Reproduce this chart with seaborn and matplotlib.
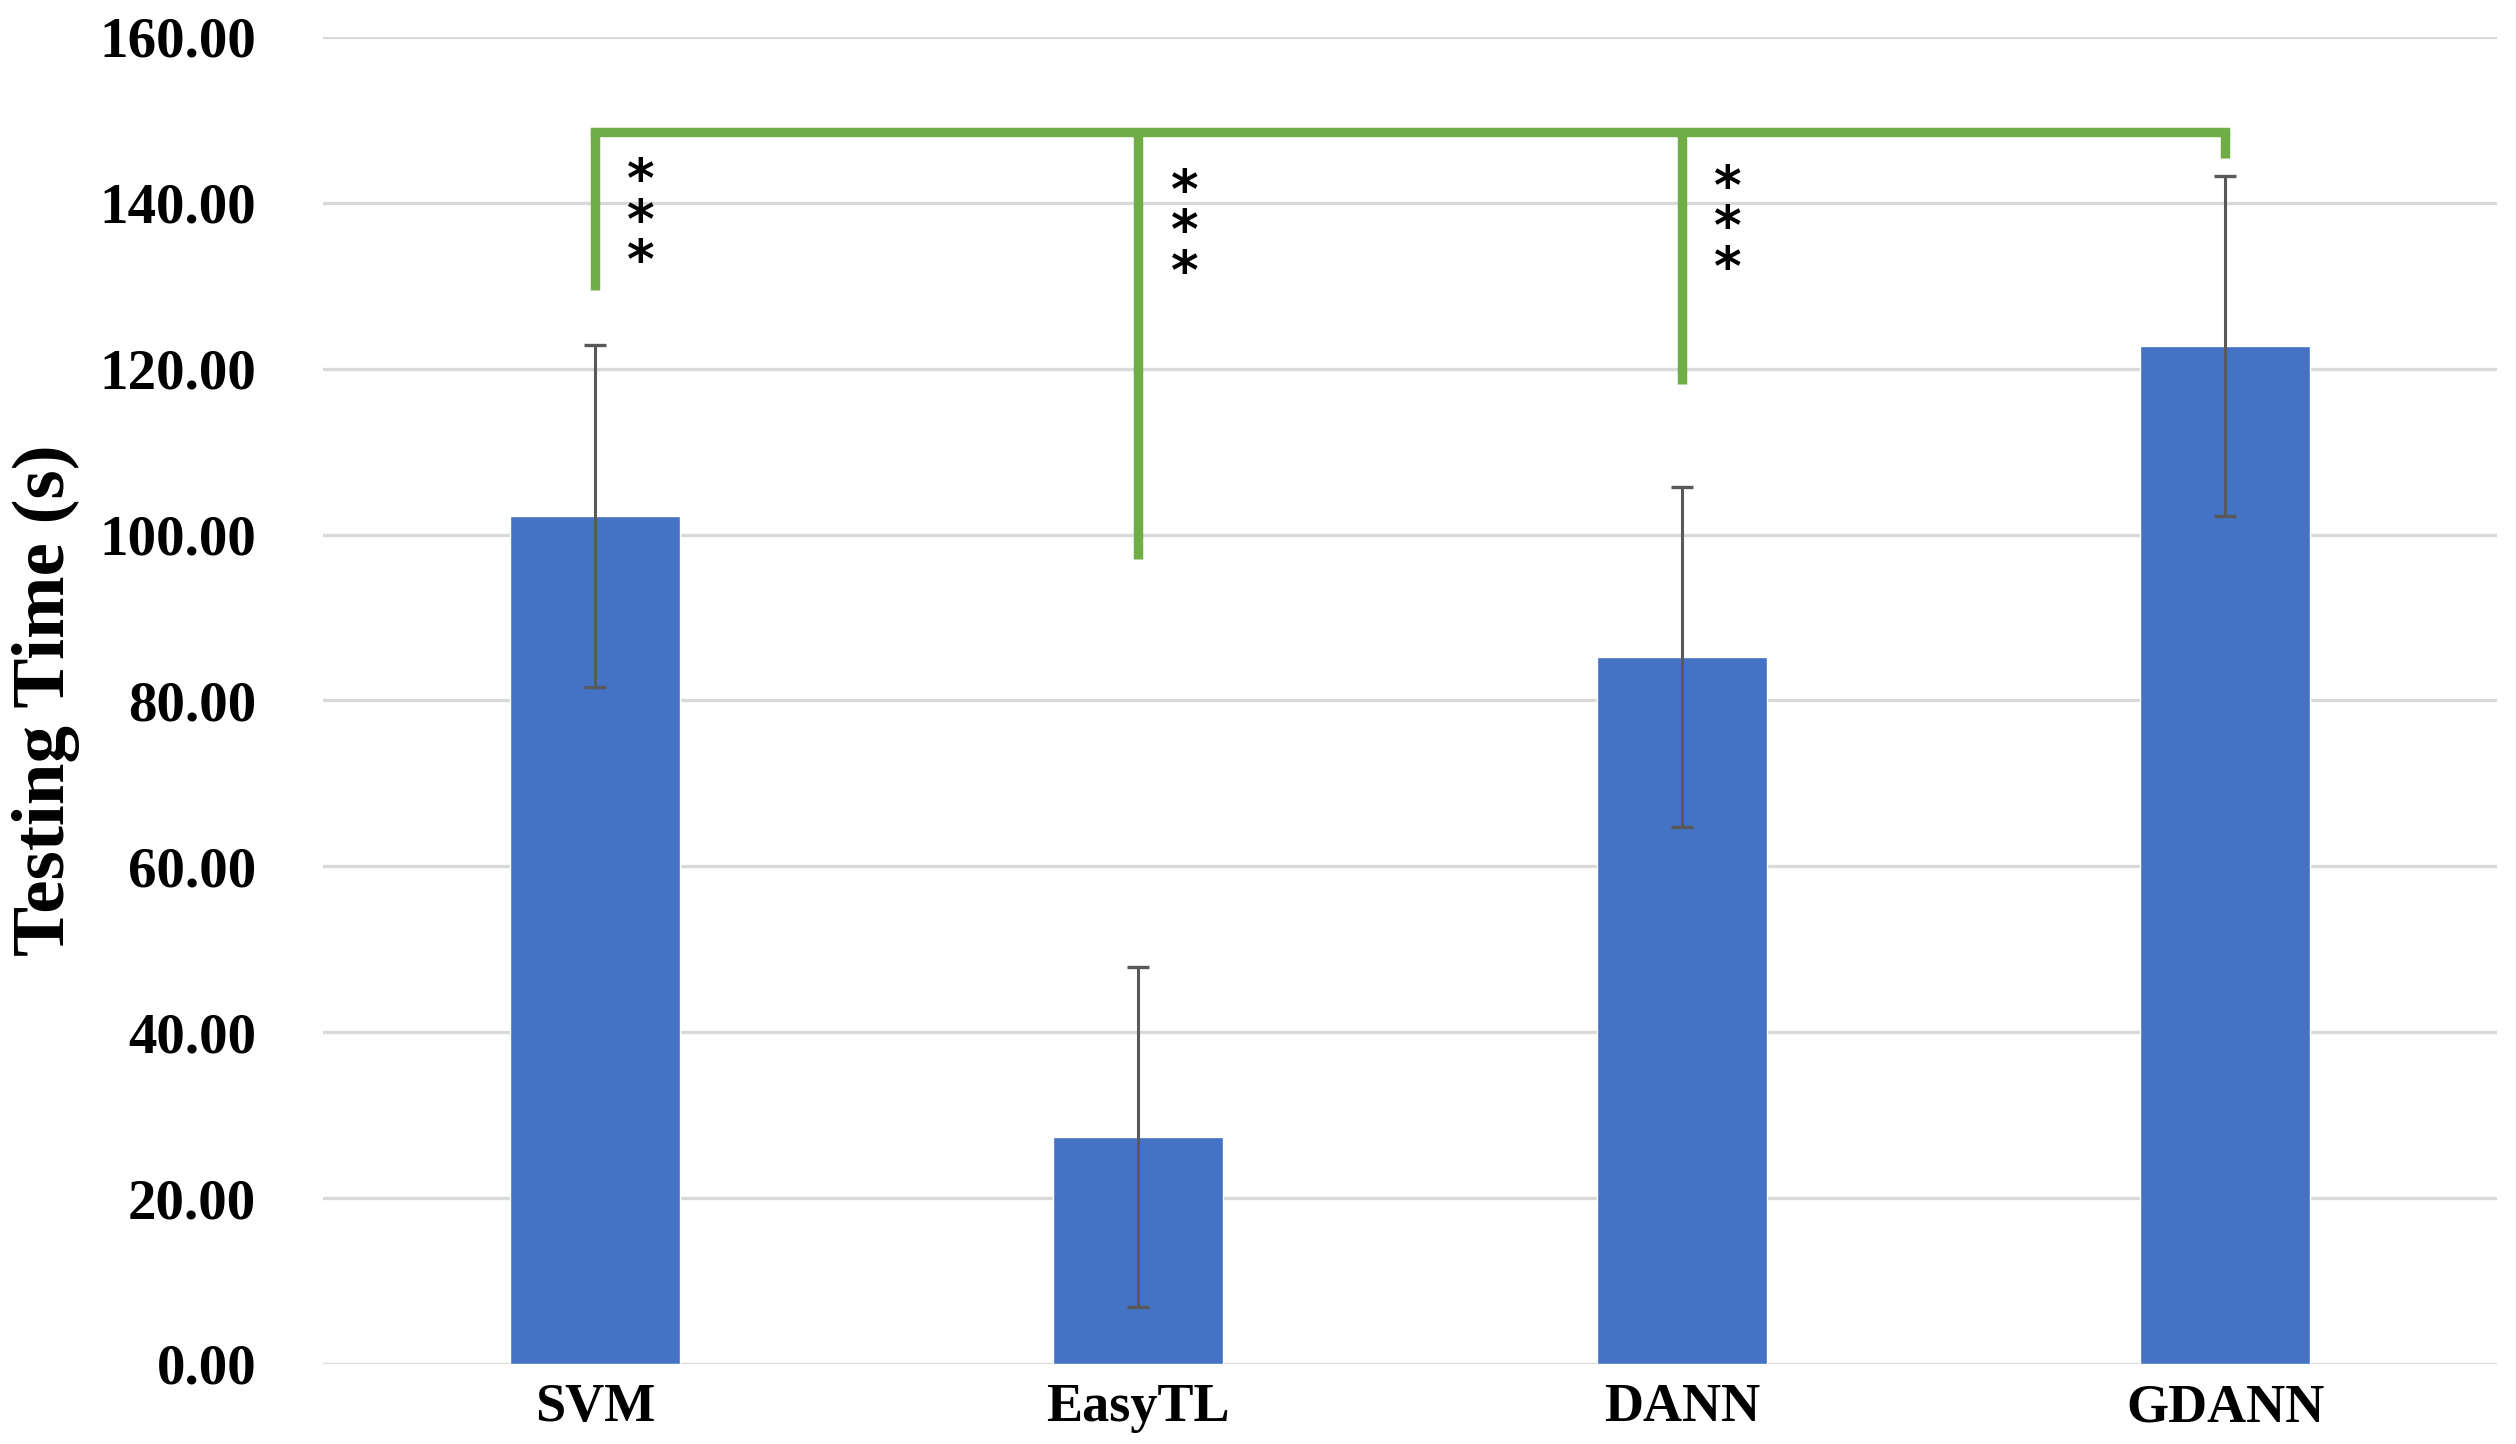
import numpy as np
import pandas as pd
import matplotlib
matplotlib.use("Agg")
import matplotlib.pyplot as plt
import seaborn as sns
from matplotlib.ticker import FormatStrFormatter

# values
methods = ["SVM", "EasyTL", "DANN", "GDANN"]
mean_time = [102.2, 27.4, 85.2, 122.7]
sd_time = [20.6, 20.5, 20.5, 20.5]

# significance bracket (top level, and where each leg ends)
bracket_top = 148.5
bracket_ends = [129.5, 97.0, 118.1, 145.4]
stars_mid = [138.6, 137.3, 137.8]   # SVM, EasyTL, DANN vs GDANN
stars = ["***", "***", "***"]

df = pd.DataFrame({"method": methods, "time": mean_time})

sns.set_style("white")
plt.rcParams["font.family"] = ["Liberation Serif", "DejaVu Serif"]
plt.rcParams["text.color"] = "black"
plt.rcParams["xtick.color"] = "black"
plt.rcParams["ytick.color"] = "black"
plt.rcParams["axes.labelcolor"] = "black"

W, H = 2516, 1444
left, right, top, bottom = 323, 2497, 36.8, 1364
fig = plt.figure(figsize=(W / 100, H / 100), dpi=100)
ax = fig.add_axes([left / W, 1 - bottom / H, (right - left) / W, (bottom - top) / H])

sns.barplot(data=df, x="method", y="time", color="#4472C4", saturation=1,
            width=0.313, errorbar=None, ax=ax, zorder=2)

xpos = np.arange(len(methods))
ax.errorbar(xpos, mean_time, yerr=sd_time, fmt="none", ecolor="#595959",
            elinewidth=2.2, capsize=8, capthick=2.4, zorder=3)

# bracket
green = "#70AD47"
ax.plot([xpos[0], xpos[-1]], [bracket_top, bracket_top], color=green,
        lw=6.8, solid_capstyle="projecting", zorder=4)
for x, end in zip(xpos, bracket_ends):
    ax.plot([x, x], [bracket_top, end], color=green, lw=6.8,
            solid_capstyle="butt", zorder=4)

# stars stacked vertically next to each leg
for x, mid, s in zip(xpos[:3], stars_mid, stars):
    ax.annotate("\n".join(s), xy=(x + 0.085, mid), xytext=(0, -6),
                textcoords="offset points", ha="center", va="center",
                fontsize=38, fontweight="bold", family="DejaVu Sans",
                linespacing=0.72, color="black", zorder=5)

ax.set_xlim(-0.5, 3.5)
ax.set_ylim(0, 160)
ax.set_yticks(np.arange(0, 161, 20))
ax.yaxis.set_major_formatter(FormatStrFormatter("%.2f"))
ax.grid(axis="y", color="#D9D9D9", lw=2.4, zorder=0)
ax.set_axisbelow(True)
for sp in ax.spines.values():
    sp.set_visible(False)
ax.tick_params(axis="both", length=0)
ax.tick_params(axis="y", pad=48, labelsize=41)
ax.tick_params(axis="x", pad=14, labelsize=39)
for lab in ax.get_xticklabels() + ax.get_yticklabels():
    lab.set_fontweight("bold")

ax.set_xlabel("")
ax.set_ylabel("Testing Time (s)", fontsize=54, fontweight="bold")
ax.yaxis.set_label_coords((80 - left) / (right - left), 0.5)

fig.savefig("out.png", dpi=100)
